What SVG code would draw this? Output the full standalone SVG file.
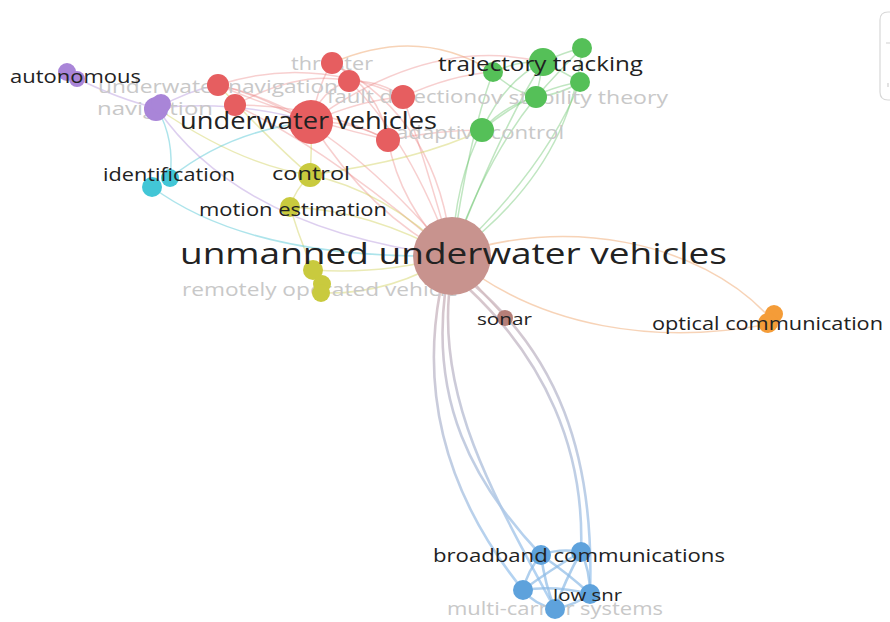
<svg xmlns="http://www.w3.org/2000/svg" width="890" height="622" viewBox="0 0 890 622">
<defs>
<linearGradient id="gBlue" gradientUnits="userSpaceOnUse" x1="0" y1="290" x2="0" y2="560">
<stop offset="0" stop-color="#d2bcc2"/><stop offset="1" stop-color="#a6cbef"/>
</linearGradient>
<style>
.e{fill:none;stroke-width:1.5;stroke-linecap:round}
.er{stroke:#ea8082;stroke-opacity:.38}
.eg{stroke:#62c064;stroke-opacity:.4}
.ey{stroke:#d0d05a;stroke-opacity:.45}
.ep{stroke:#b494dc;stroke-opacity:.45}
.ec{stroke:#5ccad8;stroke-opacity:.5}
.eo{stroke:#f0a870;stroke-opacity:.5}
.eh{stroke:#c9a09c;stroke-opacity:.55}
.eb{stroke:url(#gBlue);stroke-width:2.6;stroke-opacity:.85}
.ebb{stroke:#8dbbe6;stroke-width:2.6;stroke-opacity:.7}
text{font-family:"Open Sans","Noto Sans","DejaVu Sans",sans-serif}
.d{fill:#222222}
.g{fill:#c8c8c8}
.nr{fill:#e65e60}
.ng{fill:#55c058}
.np{fill:#a985d8}
.nc{fill:#42c6d6}
.ny{fill:#c9ca3e}
.nh{fill:#c8938e}
.ns{fill:#b67f78}
.no{fill:#f49c38}
.nb{fill:#5ea2dc}
</style>
</defs>
<rect width="890" height="622" fill="#ffffff"/>
<path d="M890,12 H888 Q880,12 880,20 V92 Q880,100 888,100 H890" fill="none" stroke="#d8d8d8" stroke-width="1.2"/>
<path d="M886,43 H890 M888,83 V87" stroke="#d0d0d0" stroke-width="1.2"/>

<g id="connectors">
<path class="e er" d="M452,256 Q370,215 311,122"/>
<path class="e er" d="M452,256 Q400,205 388,140"/>
<path class="e er" d="M452,256 Q425,160 403,97"/>
<path class="e er" d="M452,256 Q410,140 349,81"/>
<path class="e er" d="M452,256 Q440,120 332,63"/>
<path class="e er" d="M452,256 Q330,150 235,105"/>
<path class="e er" d="M452,256 Q330,110 218,85"/>
<path class="e er" d="M311,122 Q265,95 218,85"/>
<path class="e er" d="M311,122 Q320,90 349,81"/>
<path class="e er" d="M311,122 Q320,80 332,63"/>
<path class="e er" d="M218,85 Q310,55 403,97"/>
<path class="e er" d="M235,105 Q320,105 388,140"/>
<path class="e er" d="M235,105 Q300,70 349,81"/>
<path class="e er" d="M332,63 Q380,90 388,140"/>
<path class="e er" d="M349,81 Q380,80 403,97"/>
<path class="e er" d="M311,122 Q350,120 388,140"/>
<path class="e er" d="M311,122 Q360,100 403,97"/>
<path class="e er" d="M218,85 Q300,120 388,140"/>
<path class="e er" d="M388,140 Q440,130 482,130"/>
<path class="e er" d="M403,97 Q450,75 493,72"/>
<path class="e eo" d="M332,63 Q420,25 493,72"/>
<path class="e er" d="M311,122 Q430,35 543,62"/>

<path class="e eg" d="M452,256 Q455,180 482,130"/>
<path class="e eg" d="M452,256 Q485,160 536,97"/>
<path class="e eg" d="M452,256 Q500,130 543,62"/>
<path class="e eg" d="M452,256 Q545,170 580,82"/>
<path class="e eg" d="M452,256 Q468,140 493,72"/>
<path class="e eg" d="M452,256 Q570,170 582,48"/>
<path class="e eg" d="M482,130 Q505,105 536,97"/>
<path class="e eg" d="M482,130 Q530,90 580,82"/>
<path class="e eg" d="M482,130 Q505,80 543,62"/>
<path class="e eg" d="M493,72 Q520,60 543,62"/>
<path class="e eg" d="M543,62 Q565,52 582,48"/>
<path class="e eg" d="M536,97 Q560,70 582,48"/>
<path class="e eg" d="M536,97 Q540,80 543,62"/>
<path class="e eg" d="M580,82 Q560,70 543,62"/>
<path class="e eg" d="M536,97 Q560,95 580,82"/>
<path class="e eg" d="M493,72 Q510,90 536,97"/>

<path class="e ey" d="M452,256 Q385,190 310,175"/>
<path class="e ey" d="M452,256 Q370,210 290,207"/>
<path class="e ey" d="M452,256 Q380,275 313,270"/>
<path class="e ey" d="M452,256 Q390,295 321,293"/>
<path class="e ey" d="M310,175 Q295,190 290,207"/>
<path class="e ey" d="M310,175 Q312,150 311,122"/>
<path class="e ey" d="M290,207 Q300,240 313,270"/>
<path class="e ey" d="M310,175 Q420,160 482,130"/>
<path class="e ey" d="M157,108 Q240,165 310,175"/>
<path class="e ey" d="M218,85 Q280,150 310,175"/>

<path class="e ec" d="M152,187 Q250,260 452,256"/>
<path class="e ec" d="M170,178 Q175,140 157,108"/>
<path class="e ec" d="M170,178 Q230,130 311,122"/>

<path class="e ep" d="M72,76 Q120,100 157,108"/>
<path class="e ep" d="M157,108 Q240,230 452,256"/>
<path class="e ep" d="M157,108 Q190,90 218,85"/>
<path class="e ep" d="M157,108 Q240,100 311,122"/>

<path class="e eo" d="M452,256 C560,215 700,240 770,318"/>
<path class="e eo" d="M452,256 C540,330 660,345 770,324"/>
<path class="e eh" d="M452,256 Q480,290 505,317"/>

<path class="e eb" d="M440,292 C420,400 450,500 523,590"/>
<path class="e eb" d="M445,293 C432,400 470,480 541,555"/>
<path class="e eb" d="M449,294 C440,400 490,490 555,609"/>
<path class="e eb" d="M468,288 C545,360 585,450 581,552"/>
<path class="e eb" d="M474,285 C555,355 595,450 590,594"/>

<path class="e ebb" d="M541,555 Q560,548 581,552"/>
<path class="e ebb" d="M541,555 Q528,570 523,590"/>
<path class="e ebb" d="M541,555 Q570,575 590,594"/>
<path class="e ebb" d="M581,552 Q550,570 523,590"/>
<path class="e ebb" d="M581,552 Q565,580 555,609"/>
<path class="e ebb" d="M523,590 Q555,585 590,594"/>
<path class="e ebb" d="M523,590 Q535,605 555,609"/>
<path class="e ebb" d="M555,609 Q575,605 590,594"/>
<path class="e ebb" d="M541,555 Q545,585 555,609"/>
<path class="e ebb" d="M581,552 Q590,570 590,594"/>
</g>

<g id="node-underwater-navigation"><text class="g" x="98" y="93" font-size="19" textLength="240" lengthAdjust="spacingAndGlyphs">underwater navigation</text><circle class="nr" cx="218" cy="85" r="11"/></g>
<g id="node-navigation"><text class="g" x="97" y="115" font-size="19" textLength="116" lengthAdjust="spacingAndGlyphs">navigation</text><circle class="np" cx="156" cy="109" r="12"/><circle class="np" cx="161" cy="104" r="10"/></g>
<g id="node-thruster"><text class="g" x="291" y="70" font-size="18" textLength="82" lengthAdjust="spacingAndGlyphs">thruster</text><circle class="nr" cx="332" cy="63" r="11"/></g>
<g id="node-lyapunov"><text class="g" x="477" y="104" font-size="19" textLength="191" lengthAdjust="spacingAndGlyphs">ov stability theory</text><circle class="ng" cx="536" cy="97" r="11"/></g>
<g id="node-fault-detection"><text class="g" x="327" y="103" font-size="18.5" textLength="150" lengthAdjust="spacingAndGlyphs">fault detection</text><circle class="nr" cx="403" cy="97" r="12"/></g>
<g id="node-adaptive-control"><text class="g" x="396" y="139" font-size="18.5" textLength="168" lengthAdjust="spacingAndGlyphs">adaptive control</text><circle class="ng" cx="482" cy="130" r="12"/></g>
<g id="node-remotely-operated-vehicle"><text class="g" x="182" y="296" font-size="19" textLength="276" lengthAdjust="spacingAndGlyphs">remotely operated vehicle</text><circle class="ny" cx="313" cy="270" r="10"/><circle class="ny" cx="322" cy="284" r="9"/><circle class="ny" cx="321" cy="293" r="9"/></g>
<g id="node-multi-carrier-systems"><text class="g" x="447" y="615" font-size="17.5" textLength="216" lengthAdjust="spacingAndGlyphs">multi-carrier systems</text><circle class="nb" cx="555" cy="609" r="10"/></g>

<g id="node-red-a"><circle class="nr" cx="235" cy="105" r="11"/></g>
<g id="node-red-b"><circle class="nr" cx="349" cy="81" r="11"/></g>
<g id="node-red-c"><circle class="nr" cx="388" cy="140" r="12"/></g>
<g id="node-green-a"><circle class="ng" cx="493" cy="72" r="10"/></g>
<g id="node-green-b"><circle class="ng" cx="582" cy="48" r="10"/></g>
<g id="node-green-c"><circle class="ng" cx="580" cy="82" r="10"/></g>
<g id="node-cyan-a"><circle class="nc" cx="152" cy="187" r="10"/></g>
<g id="node-blue-a"><circle class="nb" cx="541" cy="555" r="10"/></g>
<g id="node-blue-b"><circle class="nb" cx="523" cy="590" r="10"/></g>

<g id="node-autonomous"><circle class="np" cx="67" cy="72" r="9"/><circle class="np" cx="77" cy="79" r="8"/><text class="d" x="10" y="83" font-size="18" textLength="131" lengthAdjust="spacingAndGlyphs">autonomous</text></g>
<g id="node-underwater-vehicles"><circle class="nr" cx="311" cy="122" r="22"/><text class="d" x="180" y="129" font-size="24" textLength="257" lengthAdjust="spacingAndGlyphs">underwater vehicles</text></g>
<g id="node-trajectory-tracking"><circle class="ng" cx="543" cy="62" r="14"/><text class="d" x="438" y="71" font-size="20" textLength="205" lengthAdjust="spacingAndGlyphs">trajectory tracking</text></g>
<g id="node-identification"><circle class="nc" cx="170" cy="178" r="9"/><text class="d" x="103" y="181" font-size="18" textLength="132" lengthAdjust="spacingAndGlyphs">identification</text></g>
<g id="node-control"><circle class="ny" cx="310" cy="175" r="12"/><text class="d" x="272" y="180" font-size="19" textLength="78" lengthAdjust="spacingAndGlyphs">control</text></g>
<g id="node-motion-estimation"><circle class="ny" cx="290" cy="207" r="10"/><text class="d" x="199" y="216" font-size="18" textLength="188" lengthAdjust="spacingAndGlyphs">motion estimation</text></g>
<g id="node-unmanned-underwater-vehicles"><circle class="nh" cx="452" cy="256" r="39"/><text class="d" x="180" y="264" font-size="30" textLength="547" lengthAdjust="spacingAndGlyphs">unmanned underwater vehicles</text></g>
<g id="node-sonar"><circle class="ns" cx="505" cy="318" r="8"/><text class="d" x="477" y="325" font-size="17" textLength="55" lengthAdjust="spacingAndGlyphs">sonar</text></g>
<g id="node-optical-communication"><circle class="no" cx="774" cy="314" r="9"/><circle class="no" cx="768" cy="323" r="10"/><text class="d" x="652" y="330" font-size="18" textLength="231" lengthAdjust="spacingAndGlyphs">optical communication</text></g>
<g id="node-broadband-communications"><circle class="nb" cx="581" cy="552" r="10"/><text class="d" x="433" y="562" font-size="18" textLength="292" lengthAdjust="spacingAndGlyphs">broadband communications</text></g>
<g id="node-low-snr"><circle class="nb" cx="590" cy="594" r="10"/><text class="d" x="553" y="601" font-size="17" textLength="69" lengthAdjust="spacingAndGlyphs">low snr</text></g>
</svg>
